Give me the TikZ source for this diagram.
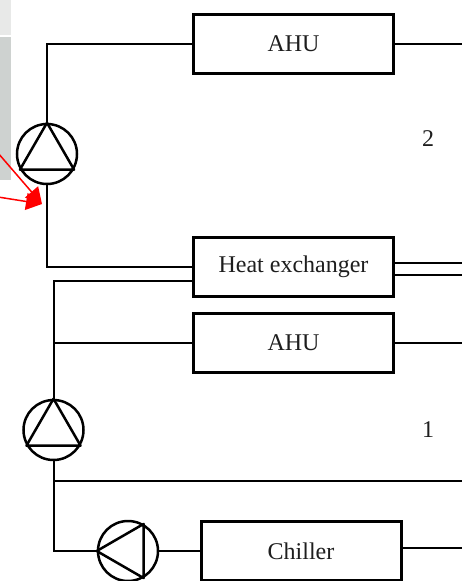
\documentclass[tikz,border=0pt]{standalone}
\usepackage{fontspec}
\setmainfont{Liberation Serif}
\usetikzlibrary{arrows.meta}
\definecolor{panellight}{RGB}{232,233,232}
\definecolor{paneldark}{RGB}{206,210,208}
\definecolor{inkcolor}{RGB}{30,30,30}
\definecolor{redcolor}{RGB}{255,0,0}

\begin{document}
\begin{tikzpicture}[
  x=1pt, y=-1pt,
  unitbox/.style={draw=black, line width=3pt, fill=white, minimum width=200pt,
    minimum height=59pt, inner sep=0pt, text=inkcolor,
    font=\fontsize{24}{28}\selectfont},
  pumpcirc/.style={draw=black, circle, line width=2.5pt, minimum size=60pt,
    inner sep=0pt},
  pumptri/.style={draw=black, line width=2.5pt, line join=round},
  pipe/.style={draw=black, line width=2pt},
  numlabel/.style={text=inkcolor, inner sep=0pt, font=\fontsize{24}{28}\selectfont},
  redarrow/.style={draw=redcolor, line width=1.5pt,
    -{Triangle[length=16pt, width=17pt, fill=redcolor]}},
]
  \useasboundingbox (0, 0) rectangle (462, 581);

  % Side panels
  \fill[panellight] (0, 0) rectangle (11, 35);
  \fill[paneldark] (0, 37) rectangle (11, 180);

  % Units
  \node[unitbox] (ahutop) at (293.5, 44) {AHU};
  \node[unitbox] (hx) at (293.5, 266.5) {Heat exchanger};
  \node[unitbox] (ahulow) at (293.5, 342.5) {AHU};
  \node[unitbox] (chiller) at (301, 551) {Chiller};

  % Pumps
  \node[pumpcirc] (pumptop) at (47, 154) {};
  \node[pumpcirc] (pumplow) at (53.5, 430) {};
  \node[pumpcirc] (pumpchl) at (128, 551) {};
  \draw[pumptri] (pumptop.90) -- (pumptop.210) -- (pumptop.330) -- cycle;
  \draw[pumptri] (pumplow.90) -- (pumplow.210) -- (pumplow.330) -- cycle;
  \draw[pumptri] (pumpchl.180) -- (pumpchl.60) -- (pumpchl.300) -- cycle;

  % Free ends and tees
  \coordinate (ahutopout) at (462, 44);
  \coordinate (hxinlow) at (ahulow.west |- 0, 281);
  \coordinate (hxoutA) at (394, 263);
  \coordinate (hxoutB) at (394, 275);
  \coordinate (hxendA) at (462, 263);
  \coordinate (hxendB) at (462, 275);
  \coordinate (ahulowout) at (462, 342.5);
  \coordinate (teeahu) at (53.5, 342.5);
  \coordinate (teeret) at (53.5, 481);
  \coordinate (retend) at (462, 481);
  \coordinate (chillerout) at (401, 548);
  \coordinate (chillerend) at (462, 548);

  % Pipes
  \draw[pipe] (pumptop.north) |- (ahutop.west);
  \draw[pipe] (pumptop.south) |- (hx.west);
  \draw[pipe] (ahutop.east) -- (ahutopout);
  \draw[pipe] (pumplow.north) |- (hxinlow);
  \draw[pipe] (teeahu) -- (ahulow.west);
  \draw[pipe] (ahulow.east) -- (ahulowout);
  \draw[pipe] (hxoutA) -- (hxendA);
  \draw[pipe] (hxoutB) -- (hxendB);
  \draw[pipe] (pumplow.south) |- (pumpchl.west);
  \draw[pipe] (teeret) -- (retend);
  \draw[pipe] (pumpchl.east) -- (chiller.west);
  \draw[pipe] (chillerout) -- (chillerend);

  % Loop numbers
  \node[numlabel] (looptwo) at (428, 139) {2};
  \node[numlabel] (loopone) at (428, 430) {1};

  % Red arrows
  \coordinate (redtip) at (42, 204);
  \coordinate (redA) at (-2, 153);
  \coordinate (redB) at (-2, 197);
  \draw[redarrow] (redA) -- (redtip);
  \draw[redarrow] (redB) -- (redtip);
\end{tikzpicture}
\end{document}
